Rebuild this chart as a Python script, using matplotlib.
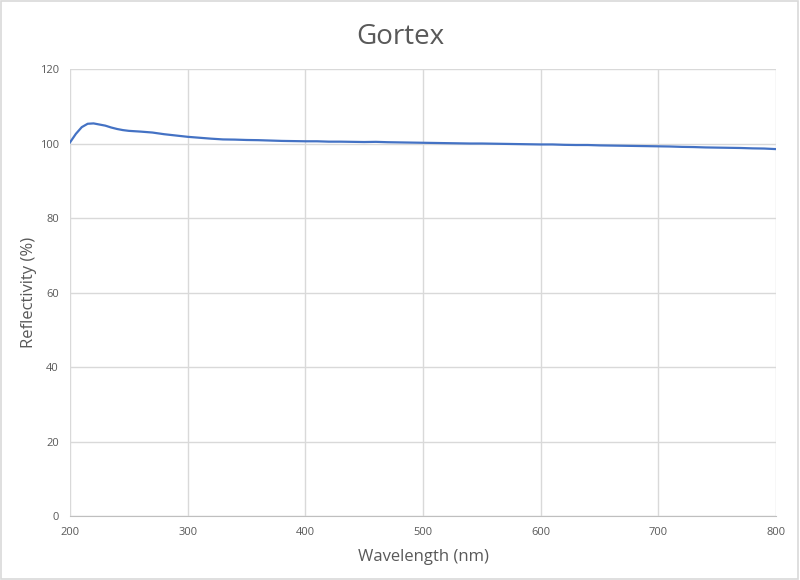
import matplotlib.pyplot as plt
from matplotlib.patches import Rectangle

# data
wavelength = [200, 205, 210, 215, 220, 225, 230, 235, 240, 245, 250,
              260, 270, 280, 290, 300, 310, 320, 330, 340, 350, 360, 370, 380, 390,
              400, 410, 420, 430, 440, 450, 460, 470, 480, 490, 500, 510, 520, 530,
              540, 550, 560, 570, 580, 590, 600, 610, 620, 630, 640, 650, 660, 670,
              680, 690, 700, 710, 720, 730, 740, 750, 760, 770, 780, 790, 800]
reflectivity = [100.3, 102.6, 104.4, 105.3, 105.4, 105.1, 104.8, 104.3, 103.9, 103.6, 103.4,
                103.2, 102.95, 102.5, 102.15, 101.8, 101.55, 101.3, 101.1, 101.05, 100.95,
                100.9, 100.8, 100.7, 100.65, 100.6, 100.6, 100.5, 100.5, 100.45, 100.4,
                100.45, 100.35, 100.3, 100.25, 100.2, 100.15, 100.1, 100.05, 100.0, 100.0,
                99.95, 99.9, 99.85, 99.8, 99.75, 99.75, 99.65, 99.6, 99.6, 99.5, 99.45,
                99.4, 99.35, 99.3, 99.25, 99.2, 99.1, 99.05, 98.95, 98.9, 98.85, 98.8,
                98.7, 98.65, 98.5]
xticks = [200, 300, 400, 500, 600, 700, 800]
yticks = [0, 20, 40, 60, 80, 100, 120]

plt.rcParams['font.family'] = ['Open Sans', 'DejaVu Sans']
grey = '#595959'

fig = plt.figure(figsize=(8, 5.8), dpi=100)
ax = fig.add_axes([0.0875, 0.1103, 0.8825, 0.7707])

ax.plot(wavelength, reflectivity, color='#4472C4', linewidth=1.6)

ax.set_xlim(200, 800)
ax.set_ylim(0, 120)
ax.set_xticks(xticks)
ax.set_yticks(yticks)
ax.grid(True, color='#d9d9d9', linewidth=1)
ax.set_axisbelow(True)
for s in ['top', 'right', 'left']:
    ax.spines[s].set_visible(False)
ax.spines['bottom'].set_color('#bfbfbf')
ax.tick_params(length=0, labelsize=8, colors=grey, pad=8)

ax.set_xlabel('Wavelength (nm)', fontsize=12, color=grey, labelpad=8)
ax.set_ylabel('Reflectivity (%)', fontsize=12, color=grey, labelpad=2)
fig.text(0.5, 0.937, 'Gortex', fontsize=20, color=grey, ha='center', va='center')

fig.patches.append(Rectangle((0.001, 0.001), 0.997, 0.997, transform=fig.transFigure,
                             fill=False, edgecolor='#d9d9d9', linewidth=1.2))

fig.savefig('out.png', dpi=100)
